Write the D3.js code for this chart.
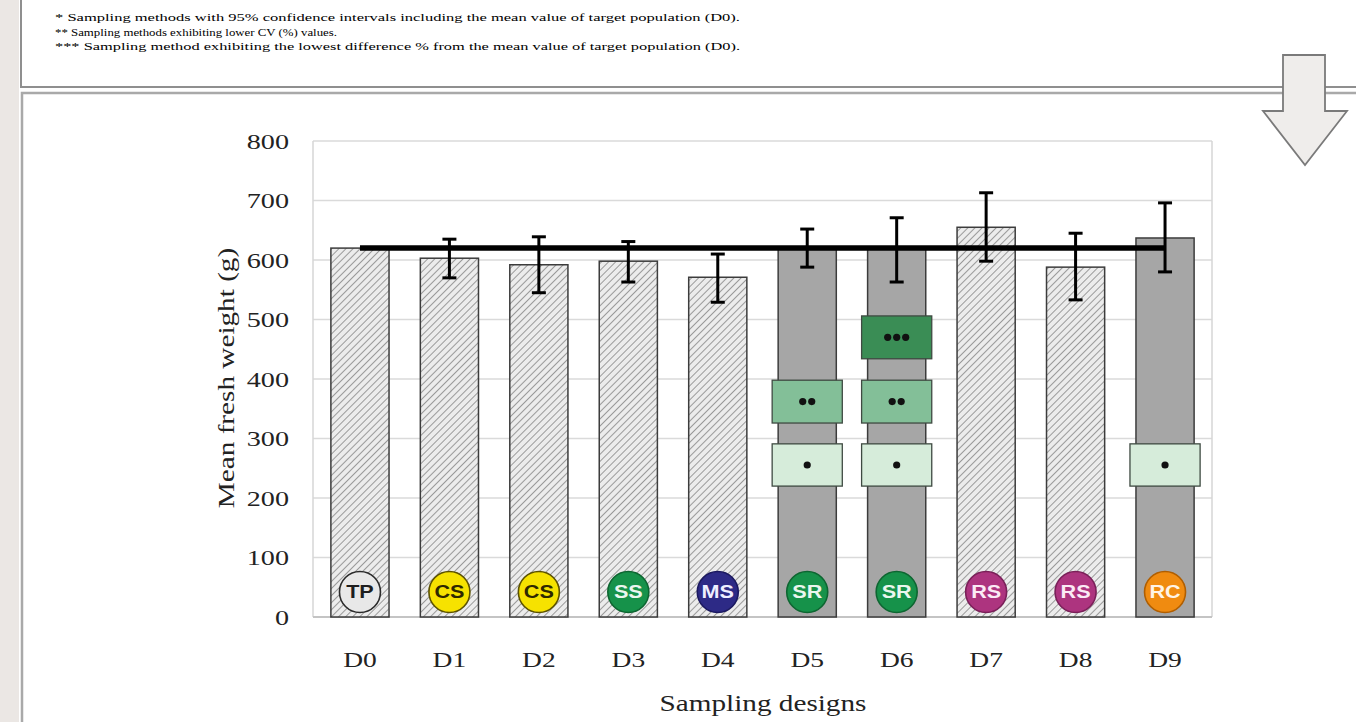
<!DOCTYPE html>
<html>
<head>
<meta charset="utf-8">
<script src="https://cdn.jsdelivr.net/npm/d3@7"></script>
<style>
  body { margin: 0; background: #fff; }
  svg { display: block; }
</style>
</head>
<body>
<svg id="chart" width="1356" height="722"></svg>
<script>
// values
const designs = ['D0', 'D1', 'D2', 'D3', 'D4', 'D5', 'D6', 'D7', 'D8', 'D9']
const means = [620, 603, 592, 598, 571, 618, 619, 655, 588, 637]
const errLow = [null, 570, 545, 563, 529, 588, 563, 598, 533, 580]
const errHigh = [null, 635, 639, 631, 610, 652, 671, 713, 645, 696]
const hatched = [true, true, true, true, true, false, false, true, true, false]
const methods = ['TP', 'CS', 'CS', 'SS', 'MS', 'SR', 'SR', 'RS', 'RS', 'RC']
const popMean = 620
const yTicks = [0, 100, 200, 300, 400, 500, 600, 700, 800]

// star boxes: which design, which level
const starDesigns = ['D5', 'D5', 'D6', 'D6', 'D6', 'D9']
const starLevels = [1, 2, 1, 2, 3, 1]
const starLow = [220, 326, 434]
const starHigh = [291, 398, 506]

const notes = [
    '* Sampling methods with 95% confidence intervals including the mean value of target population (D0).',
    '** Sampling methods exhibiting lower CV (%) values.',
    '*** Sampling method exhibiting the lowest difference % from the mean value of target population (D0).'
]

const methodColor = {
    TP: ['#e8e8e8', '#2b2b2b', '#1e1e1e'],
    CS: ['#f6e200', '#5c5200', '#2e2800'],
    SS: ['#16924a', '#0d6631', '#eaf6ee'],
    MS: ['#2d2a86', '#1b1960', '#eeeeff'],
    SR: ['#16924a', '#0d6631', '#eaf6ee'],
    RS: ['#ad347f', '#7a2059', '#fbeaf5'],
    RC: ['#f08b10', '#b05e00', '#fff4e6']
}
const starFill = ['#d6ecda', '#83bf98', '#3a8d55']

const svg = d3.select('#chart')
const serif = '"Liberation Serif", "Times New Roman", serif'

// stretch text horizontally like the source rendering
function widen(sel, k) {
    sel.each(function () {
        const len = this.getComputedTextLength()
        d3.select(this).attr('textLength', len * k).attr('lengthAdjust', 'spacingAndGlyphs')
    })
}

// ---- page frame ----
svg.append('rect').attr('x', 0).attr('y', 0).attr('width', 19).attr('height', 722).attr('fill', '#ebe7e4')
svg.append('rect').attr('x', 21).attr('y', -5).attr('width', 1345).attr('height', 92)
    .attr('fill', '#fff').attr('stroke', '#8f8f8f').attr('stroke-width', 2)
svg.append('path').attr('d', 'M22,722 V93 H1356').attr('fill', 'none')
    .attr('stroke', '#a9a9a9').attr('stroke-width', 2.5)

const noteEnds = [740, 337, 740]
svg.selectAll('.note').data(notes).join('text')
    .attr('class', 'note')
    .attr('x', 55)
    .attr('y', (d, i) => 21 + i * 14.5)
    .attr('font-family', serif)
    .attr('font-size', 11)
    .attr('fill', '#000')
    .attr('textLength', (d, i) => noteEnds[i] - 55)
    .attr('lengthAdjust', 'spacingAndGlyphs')
    .text(d => d)

// ---- scales ----
const x = d3.scaleBand().domain(designs).range([313, 1212]).paddingInner(0.35).paddingOuter(0.2)
const y = d3.scaleLinear().domain([0, 800]).range([617, 141])
const bw = x.bandwidth()

const defs = svg.append('defs')
const pat = defs.append('pattern').attr('id', 'hatch')
    .attr('patternUnits', 'userSpaceOnUse').attr('width', 5).attr('height', 5)
    .attr('patternTransform', 'rotate(45)')
pat.append('rect').attr('width', 5).attr('height', 5).attr('fill', '#ececec')
pat.append('line').attr('x1', 0).attr('y1', 0).attr('x2', 0).attr('y2', 5)
    .attr('stroke', '#858585').attr('stroke-width', 1.6)

// grid
svg.append('g')
    .selectAll('line').data(yTicks.filter(t => t > 0)).join('line')
    .attr('x1', 313).attr('x2', 1212)
    .attr('y1', d => y(d)).attr('y2', d => y(d))
    .attr('stroke', '#dadada').attr('stroke-width', 1.5)
svg.append('line').attr('x1', 313).attr('x2', 313).attr('y1', y(800)).attr('y2', y(0))
    .attr('stroke', '#d6d6d6').attr('stroke-width', 1.5)
svg.append('line').attr('x1', 1212).attr('x2', 1212).attr('y1', y(800)).attr('y2', y(0))
    .attr('stroke', '#d6d6d6').attr('stroke-width', 1.5)

// y axis
const yAxis = svg.append('g')
    .attr('transform', 'translate(289,0)')
    .call(d3.axisLeft(y).tickValues(yTicks).tickSize(0).tickPadding(0))
yAxis.select('.domain').remove()
yAxis.selectAll('text').attr('font-family', serif).attr('font-size', 22)
    .attr('fill', '#222').attr('dy', '0.33em')
    .call(widen, 1.28)

// x axis
const xAxis = svg.append('g')
    .attr('transform', `translate(0,${y(0)})`)
    .call(d3.axisBottom(x).tickSize(0).tickPadding(34))
xAxis.select('.domain').attr('d', 'M313,0H1212').attr('stroke', '#c4c4c4').attr('stroke-width', 2)
xAxis.selectAll('text').attr('font-family', serif).attr('font-size', 22).attr('fill', '#222')
    .call(widen, 1.25)

// bars
const data = designs.map((d, i) => ({
    d, v: means[i], lo: errLow[i], hi: errHigh[i], hatch: hatched[i], m: methods[i]
}))
svg.append('g').selectAll('rect').data(data).join('rect')
    .attr('x', d => x(d.d))
    .attr('y', d => y(d.v))
    .attr('width', bw)
    .attr('height', d => y(0) - y(d.v))
    .attr('fill', d => d.hatch ? 'url(#hatch)' : '#a6a6a6')
    .attr('stroke', '#3c3c3c')
    .attr('stroke-width', 1.5)

// star boxes
const stars = starDesigns.map((d, i) => ({ d, lvl: starLevels[i] }))
const sg = svg.append('g').selectAll('g').data(stars).join('g')
sg.append('rect')
    .attr('x', d => x(d.d) - 6)
    .attr('y', d => y(starHigh[d.lvl - 1]))
    .attr('width', bw + 12)
    .attr('height', d => y(starLow[d.lvl - 1]) - y(starHigh[d.lvl - 1]))
    .attr('fill', d => starFill[d.lvl - 1])
    .attr('stroke', '#3f4a42')
    .attr('stroke-width', 1.3)
sg.each(function (d) {
    const cx = x(d.d) + bw / 2
    const cy = y((starLow[d.lvl - 1] + starHigh[d.lvl - 1]) / 2)
    d3.select(this).selectAll('circle').data(d3.range(d.lvl)).join('circle')
        .attr('cx', k => cx + (k - (d.lvl - 1) / 2) * 9)
        .attr('cy', cy)
        .attr('r', 3.6)
        .attr('fill', '#111')
})

// population mean line
svg.append('line')
    .attr('x1', x('D0') + bw / 2).attr('x2', x('D9') + bw / 2)
    .attr('y1', y(popMean)).attr('y2', y(popMean))
    .attr('stroke', '#000').attr('stroke-width', 5.5)

// error bars
const eb = svg.append('g').selectAll('g').data(data.filter(d => d.lo != null)).join('g')
    .attr('stroke', '#000').attr('stroke-width', 3)
eb.append('line')
    .attr('x1', d => x(d.d) + bw / 2).attr('x2', d => x(d.d) + bw / 2)
    .attr('y1', d => y(d.hi)).attr('y2', d => y(d.lo))
eb.selectAll('.cap').data(d => [d.lo, d.hi].map(v => ({ d: d.d, v }))).join('line')
    .attr('class', 'cap')
    .attr('x1', c => x(c.d) + bw / 2 - 7).attr('x2', c => x(c.d) + bw / 2 + 7)
    .attr('y1', c => y(c.v)).attr('y2', c => y(c.v))

// method badges
const bg = svg.append('g').selectAll('g').data(data).join('g')
    .attr('transform', d => `translate(${x(d.d) + bw / 2},${y(0) - 25})`)
bg.append('circle')
    .attr('r', 20.5)
    .attr('fill', d => methodColor[d.m][0])
    .attr('stroke', d => methodColor[d.m][1])
    .attr('stroke-width', 1.6)
bg.append('text')
    .attr('text-anchor', 'middle')
    .attr('dy', '0.36em')
    .attr('font-family', '"Liberation Sans", Arial, sans-serif')
    .attr('font-weight', 'bold')
    .attr('font-size', 18)
    .attr('fill', d => methodColor[d.m][2])
    .text(d => d.m)
    .call(widen, 1.2)

// axis titles
svg.append('text')
    .attr('transform', 'translate(234,378) rotate(-90)')
    .attr('text-anchor', 'middle')
    .attr('font-family', serif).attr('font-size', 23).attr('fill', '#222')
    .text('Mean fresh weight (g)')
    .call(widen, 1.27)
svg.append('text')
    .attr('x', 763).attr('y', 711)
    .attr('text-anchor', 'middle')
    .attr('font-family', serif).attr('font-size', 23).attr('fill', '#222')
    .text('Sampling designs')
    .call(widen, 1.27)

// down arrow
svg.append('path')
    .attr('d', 'M1283,55 H1325 V111 H1347 L1305,165 L1263,111 H1283 Z')
    .attr('fill', '#efedeb')
    .attr('stroke', '#7a7a7a')
    .attr('stroke-width', 1.8)
</script>
</body>
</html>
